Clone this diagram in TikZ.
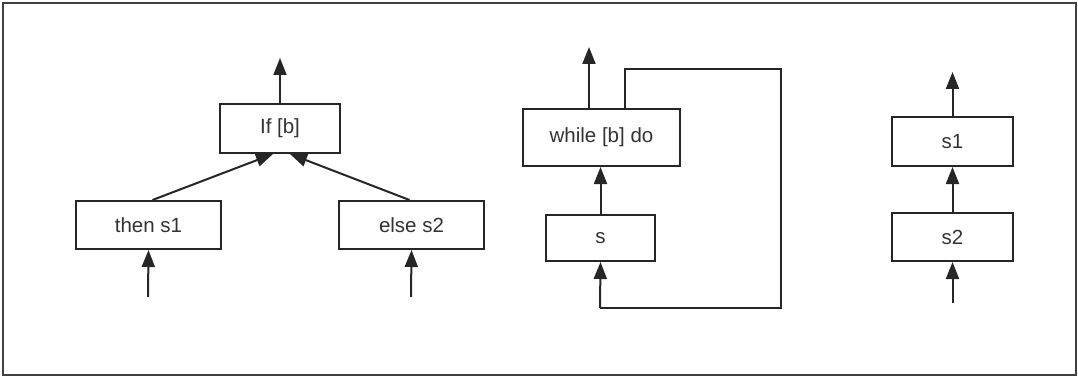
\documentclass[tikz,border=0pt]{standalone}
\usepackage{fontspec}
\setmainfont{Liberation Sans}
\usetikzlibrary{arrows.meta}
\begin{document}
\begin{tikzpicture}[x=1pt,y=-1pt,
  box/.style={draw=black!85,line width=2pt,fill=white,inner sep=0pt,text=black!80,font=\fontsize{20.5}{24}\selectfont},
  conn/.style={draw=black!85,line width=2pt,-{Triangle[length=17pt,width=13pt]}},
  plain/.style={draw=black!85,line width=2pt}]
\useasboundingbox (0,0) rectangle (1078,377);
\draw[draw=black!75,line width=2.5pt] (3,3) rectangle (1076,375);
% if
\node[box,minimum width=120pt,minimum height=49pt] (if) at (280,128.5) {If [b]};
\node[box,minimum width=145pt,minimum height=48pt] (then) at (148.5,225) {then s1};
\node[box,minimum width=145pt,minimum height=48pt] (else) at (411.5,225) {else s2};
\coordinate (ifout) at (280,58);
\coordinate (thenin) at (148,297);
\coordinate (elsein) at (411,297);
\draw[conn] (if.north) -- (ifout);
\draw[conn] (then.north) ++(4,0) -- ([xshift=-7pt]if.south);
\draw[conn] (else.north) ++(-2,0) -- ([xshift=10pt]if.south);
\draw[conn] (thenin) -- (then.south);
\draw[conn] (elsein) -- (else.south);
% while
\node[box,minimum width=157pt,minimum height=57pt] (wh) at (601.5,137.5) {while [b] do};
\node[box,minimum width=109pt,minimum height=46pt] (s) at (600.5,238) {s};
\coordinate (whout) at (589,47);
\coordinate (c1) at (625,69);
\coordinate (c2) at (781,69);
\coordinate (c3) at (781,308);
\coordinate (c4) at (600,308);
\draw[conn] (wh.north -| whout) -- (whout);
\draw[conn] (s.north) -- (wh.south -| s.north);
\draw[plain] (wh.north -| c1) -- (c1) -- (c2) -- (c3) -- (c4);
\draw[conn] (c4) -- (s.south);
% sequence
\node[box,minimum width=121pt,minimum height=49pt] (s1) at (952.5,141.5) {s1};
\node[box,minimum width=121pt,minimum height=48pt] (s2) at (952.5,237) {s2};
\coordinate (s1out) at (952.5,72);
\coordinate (s2in) at (952.5,303);
\draw[conn] (s1.north) -- (s1out);
\draw[conn] (s2.north) -- (s1.south);
\draw[conn] (s2in) -- (s2.south);
\end{tikzpicture}
\end{document}
